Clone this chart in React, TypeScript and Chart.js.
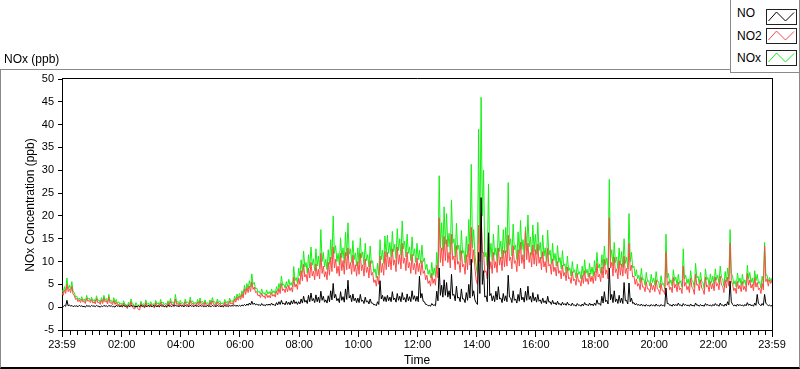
import React, { useEffect, useRef } from "react";
import { Chart, registerables } from "chart.js";

Chart.register(...registerables);

// minutes between samples, counted from the 23:59 start of the record
const STEP_MIN = 2.5;

// NOx (ppb), one row per hour (24 samples), starting 23:59
const NOX = [
  3.8, 3.2, 4.5, 3.6, 6.4, 4.0, 4.8, 3.9, 5.6, 3.4, 3.2, 2.2, 2.4, 1.6, 2.0, 1.5, 2.3, 1.4, 1.8, 1.2, 2.6, 1.7, 2.0, 1.4,
  2.2, 1.3, 1.7, 1.1, 2.5, 1.4, 1.6, 1.0, 2.1, 1.2, 2.6, 1.5, 1.9, 1.1, 2.8, 1.3, 1.5, 0.9, 2.1, 1.0, 1.7, 0.8, 1.2, 0.6,
  0.9, 0.4, 1.4, 0.6, 0.6, 0.2, 1.1, 0.5, 1.8, 0.7, 0.7, 0.1, 1.0, 0.4, 0.5, 0.0, 1.3, 0.5, 0.8, 0.3, 1.6, 0.6, 0.9, 0.4,
  1.2, 0.5, 0.8, 0.3, 1.5, 0.7, 1.0, 0.4, 1.7, 0.8, 1.1, 0.5, 0.9, 0.4, 1.4, 0.6, 1.9, 0.9, 1.2, 0.6, 2.8, 1.0, 1.3, 0.6,
  1.5, 0.8, 1.0, 0.5, 1.8, 0.9, 1.2, 0.6, 2.2, 1.0, 1.4, 0.7, 1.1, 0.6, 1.7, 0.9, 2.0, 1.0, 1.3, 0.7, 1.6, 0.8, 1.0, 0.5,
  1.6, 0.9, 2.1, 1.1, 1.2, 0.6, 1.8, 1.0, 1.4, 0.7, 1.0, 0.5, 1.7, 0.9, 1.3, 0.8, 2.0, 1.2, 1.5, 1.0, 2.4, 1.6, 2.9, 2.0,
  3.0, 2.2, 3.6, 2.6, 4.8, 3.5, 5.2, 4.0, 5.8, 4.4, 7.3, 5.0, 5.4, 4.0, 4.2, 3.2, 3.5, 2.8, 4.0, 3.0, 3.2, 2.6, 3.8, 2.9,
  3.4, 2.8, 4.0, 3.1, 3.6, 2.9, 4.5, 3.5, 5.2, 4.0, 6.8, 4.8, 5.0, 4.2, 5.6, 4.5, 6.1, 4.8, 5.4, 4.4, 8.9, 5.8, 6.5, 5.2,
  8.6, 6.8, 10.4, 7.6, 12.3, 8.8, 9.8, 7.4, 11.5, 8.6, 13.2, 9.2, 10.6, 8.0, 12.8, 9.0, 11.2, 8.4, 17.0, 10.0, 12.0, 8.8, 10.5, 8.2,
  12.6, 9.4, 14.8, 10.5, 20.0, 11.8, 13.5, 10.0, 11.8, 9.2, 15.2, 10.8, 13.0, 9.6, 16.4, 11.2, 18.5, 11.6, 12.8, 9.8, 14.6, 10.4, 11.9, 9.0,
  13.0, 9.6, 15.2, 10.8, 12.1, 9.2, 14.0, 10.2, 11.5, 8.8, 13.4, 9.6, 10.2, 7.6, 8.4, 6.4, 9.6, 7.0, 14.8, 10.4, 12.5, 9.6, 15.6, 11.0,
  15.8, 11.8, 14.2, 11.0, 16.6, 12.2, 13.8, 10.6, 17.2, 12.4, 15.0, 11.4, 18.9, 12.8, 14.5, 11.0, 16.0, 11.8, 13.2, 10.2, 15.4, 11.2, 12.8, 9.8,
  14.0, 10.4, 12.5, 9.6, 13.6, 10.0, 10.8, 8.2, 9.4, 7.2, 8.2, 6.4, 9.8, 7.0, 8.6, 6.6, 12.0, 8.4, 28.8, 13.0, 18.5, 12.4, 22.0, 13.8,
  20.5, 13.2, 16.2, 11.6, 23.5, 14.0, 15.0, 11.0, 18.4, 12.6, 13.6, 10.2, 16.8, 11.8, 12.4, 9.6, 15.5, 11.0, 19.2, 12.4, 31.3, 13.0, 17.0, 11.6,
  9.0, 7.2, 39.0, 14.0, 46.0, 20.0, 30.0, 11.0, 12.0, 9.0, 27.0, 11.0, 14.0, 10.2, 16.0, 11.4, 13.0, 10.0, 18.0, 12.2, 14.5, 10.6, 17.0, 11.8,
  17.5, 12.0, 27.3, 13.6, 15.0, 11.2, 18.2, 12.6, 13.6, 10.4, 16.5, 11.8, 19.0, 12.6, 14.8, 11.0, 17.6, 12.4, 20.2, 13.2, 15.4, 11.4, 18.0, 12.2,
  16.0, 11.6, 18.6, 12.4, 14.2, 10.6, 15.8, 11.2, 13.0, 10.0, 16.9, 11.4, 12.5, 9.4, 14.0, 10.2, 11.8, 9.0, 13.5, 9.8, 10.9, 8.4, 12.4, 9.0,
  9.5, 7.4, 11.2, 8.0, 8.6, 6.8, 10.0, 7.6, 8.2, 6.4, 9.4, 7.2, 7.8, 6.2, 9.0, 6.8, 10.4, 7.4, 8.3, 6.6, 9.6, 7.2, 8.8, 6.8,
  10.2, 7.6, 12.0, 8.6, 9.4, 7.4, 11.5, 8.4, 13.4, 9.2, 10.8, 8.4, 28.0, 10.4, 12.6, 9.0, 14.2, 9.8, 11.0, 8.4, 13.0, 9.2, 12.2, 8.8,
  15.0, 9.6, 11.0, 8.4, 20.5, 10.0, 12.0, 8.6, 9.0, 6.8, 8.2, 6.2, 7.0, 5.4, 8.5, 6.0, 6.2, 4.8, 7.6, 5.6, 5.8, 4.6, 7.2, 5.4,
  6.4, 4.8, 7.8, 5.6, 5.6, 4.2, 6.9, 5.0, 5.2, 4.0, 16.0, 6.4, 7.4, 5.2, 6.0, 4.6, 8.2, 5.8, 6.6, 4.8, 7.2, 5.2, 5.8, 4.4,
  12.8, 6.2, 7.0, 5.2, 6.2, 4.6, 8.0, 5.8, 5.6, 4.2, 9.6, 6.4, 6.8, 5.0, 7.6, 5.6, 5.4, 4.0, 8.4, 6.0, 6.5, 4.8, 7.3, 5.4,
  6.8, 5.0, 8.4, 6.0, 7.0, 5.2, 9.0, 6.4, 6.2, 4.6, 7.8, 5.6, 8.6, 6.2, 17.0, 7.4, 6.8, 5.0, 5.8, 4.4, 7.5, 5.4, 6.4, 4.8,
  7.2, 5.2, 6.0, 4.6, 9.2, 6.2, 7.6, 5.4, 6.4, 4.8, 8.0, 5.8, 7.2, 5.2, 5.6, 4.2, 6.8, 5.0, 14.2, 7.2, 7.0, 5.6, 6.5, 5.8,
  6.4,
];

// NO2 (ppb)
const NO2 = [
  3.2, 2.6, 3.8, 3.0, 5.0, 3.4, 4.0, 3.2, 4.6, 2.8, 2.6, 1.7, 1.9, 1.2, 1.6, 1.0, 1.8, 1.1, 1.3, 0.8, 2.0, 1.3, 1.5, 1.0,
  1.7, 0.9, 1.2, 0.7, 1.9, 1.0, 1.1, 0.6, 1.6, 0.8, 2.0, 1.1, 1.4, 0.7, 2.2, 0.9, 1.0, 0.5, 1.5, 0.6, 1.1, 0.4, 0.7, 0.2,
  0.5, 0.0, 0.9, 0.2, 0.1, -0.3, 0.6, 0.1, 1.2, 0.2, -0.3, -0.4, 0.4, -0.1, -0.5, -0.6, 0.8, 0.1, 0.3, -0.2, 1.0, 0.2, 0.4, 0.0,
  0.7, 0.1, 0.2, -0.2, 1.0, 0.3, 0.5, 0.0, 1.1, 0.4, 0.6, 0.1, 0.3, -0.1, 0.9, 0.2, 1.3, 0.5, 0.7, 0.2, 1.8, 0.6, 0.8, 0.2,
  0.9, 0.3, 0.5, 0.1, 1.2, 0.4, 0.7, 0.2, 1.5, 0.5, 0.9, 0.3, 0.6, 0.2, 1.1, 0.4, 1.4, 0.5, 0.8, 0.3, 1.1, 0.4, 0.5, 0.1,
  1.1, 0.5, 1.4, 0.6, 0.7, 0.2, 1.2, 0.5, 0.9, 0.3, 0.4, 0.0, 1.1, 0.4, 0.8, 0.3, 1.4, 0.7, 1.0, 0.5, 1.8, 1.1, 2.2, 1.5,
  2.4, 1.7, 2.9, 2.0, 4.0, 2.8, 4.3, 3.2, 4.6, 3.4, 5.6, 3.9, 4.4, 3.2, 3.4, 2.5, 2.7, 2.1, 3.1, 2.3, 2.5, 1.9, 2.9, 2.1,
  2.6, 2.0, 3.2, 2.4, 2.8, 2.2, 3.6, 2.7, 4.1, 3.0, 5.2, 3.6, 4.0, 3.2, 4.5, 3.4, 4.8, 3.6, 4.3, 3.3, 6.6, 4.4, 5.1, 3.9,
  6.4, 5.0, 8.0, 5.8, 9.4, 6.6, 7.2, 5.6, 8.6, 6.4, 9.8, 6.8, 7.9, 6.0, 9.5, 6.8, 8.3, 6.2, 11.8, 7.4, 9.0, 6.6, 7.8, 6.0,
  9.8, 7.0, 11.0, 7.8, 13.2, 8.6, 10.5, 7.4, 9.0, 6.8, 11.8, 8.0, 10.2, 7.2, 12.0, 8.2, 13.0, 8.4, 9.8, 7.2, 11.4, 7.8, 9.3, 6.8,
  10.0, 7.2, 11.8, 8.0, 9.3, 6.8, 10.6, 7.6, 8.8, 6.4, 10.2, 7.0, 7.6, 5.4, 6.0, 4.6, 6.8, 5.0, 11.2, 7.6, 9.6, 7.0, 12.2, 8.2,
  12.0, 8.8, 11.0, 8.2, 12.8, 9.2, 10.4, 7.8, 13.2, 9.4, 11.5, 8.4, 14.0, 9.6, 10.8, 8.0, 12.1, 8.6, 9.8, 7.4, 11.6, 8.2, 9.6, 7.2,
  10.8, 7.8, 9.6, 7.0, 10.2, 7.4, 8.0, 6.0, 7.0, 5.2, 5.8, 4.6, 7.4, 5.2, 6.2, 4.8, 9.2, 6.4, 19.6, 9.8, 13.0, 9.0, 15.5, 10.2,
  14.8, 9.8, 12.0, 8.6, 16.0, 10.4, 11.2, 8.2, 13.5, 9.4, 10.0, 7.6, 12.4, 8.8, 9.4, 7.2, 11.5, 8.2, 13.8, 9.2, 17.5, 9.8, 12.6, 8.6,
  6.0, 5.0, 18.0, 10.0, 20.5, 12.0, 12.0, 7.6, 8.0, 6.2, 14.0, 8.4, 10.0, 7.4, 12.0, 8.6, 10.0, 7.6, 13.0, 9.2, 11.0, 8.0, 12.5, 8.8,
  12.4, 9.0, 15.8, 10.2, 11.0, 8.4, 13.5, 9.6, 10.2, 7.8, 12.6, 9.0, 14.2, 9.6, 11.5, 8.4, 16.8, 10.4, 14.0, 9.8, 12.0, 8.8, 13.6, 9.4,
  12.6, 9.0, 13.8, 9.6, 11.0, 8.2, 12.2, 8.8, 10.0, 7.6, 12.9, 9.0, 9.4, 7.2, 10.6, 7.8, 8.8, 6.8, 10.0, 7.4, 8.0, 6.2, 9.2, 6.8,
  7.6, 5.8, 8.8, 6.2, 6.5, 5.2, 7.8, 5.8, 6.2, 4.8, 7.4, 5.6, 5.8, 4.6, 7.0, 5.2, 8.0, 5.6, 6.3, 5.0, 7.5, 5.6, 6.8, 5.2,
  7.8, 5.8, 9.6, 6.6, 7.2, 5.6, 8.8, 6.4, 10.5, 7.2, 8.2, 6.2, 19.6, 8.6, 9.8, 6.8, 11.0, 7.6, 8.4, 6.2, 10.2, 7.0, 9.5, 6.8,
  11.2, 7.4, 8.5, 6.2, 14.0, 8.0, 9.2, 6.6, 6.8, 5.0, 6.2, 4.6, 5.2, 3.8, 6.5, 4.4, 4.4, 3.4, 5.6, 4.0, 4.0, 3.2, 5.3, 3.8,
  4.8, 3.4, 6.0, 4.0, 3.8, 2.8, 5.2, 3.6, 3.6, 2.8, 12.0, 4.8, 5.6, 3.8, 4.4, 3.2, 6.5, 4.2, 5.0, 3.4, 5.5, 3.8, 4.2, 3.0,
  9.0, 4.6, 5.4, 3.8, 4.6, 3.2, 6.4, 4.4, 4.0, 2.8, 7.2, 4.8, 5.0, 3.6, 6.0, 4.2, 3.8, 2.8, 6.6, 4.4, 4.8, 3.4, 5.6, 4.0,
  5.2, 3.6, 6.6, 4.6, 5.2, 3.8, 6.8, 4.8, 4.6, 3.2, 6.0, 4.2, 6.6, 4.6, 14.0, 5.8, 5.0, 3.6, 4.2, 3.0, 5.6, 4.0, 4.8, 3.4,
  5.6, 3.8, 4.6, 3.4, 7.4, 4.8, 6.0, 4.2, 5.0, 3.6, 6.5, 4.4, 5.4, 3.8, 4.2, 3.0, 5.2, 3.8, 13.4, 5.6, 6.2, 4.6, 6.0, 5.2,
  6.0,
];

// NO (ppb)
const NO = [
  0.3, 0.1, 0.4, 0.2, 1.5, 0.3, 0.5, 0.2, 0.4, 0.1, 0.3, 0.2, 0.3, 0.1, 0.4, 0.2, 0.3, 0.1, 0.2, 0.0, 0.4, 0.2, 0.3, 0.1,
  0.4, 0.2, 0.3, 0.1, 0.4, 0.2, 0.2, 0.0, 0.3, 0.1, 0.4, 0.2, 0.3, 0.1, 0.4, 0.2, 0.3, 0.1, 0.2, 0.0, 0.4, 0.2, 0.3, 0.1,
  0.3, 0.1, 0.4, 0.2, 0.3, 0.1, 0.3, 0.1, 0.4, 0.2, 0.3, 0.0, 0.2, 0.1, 0.3, 0.1, 0.4, 0.2, 0.3, 0.1, 0.3, 0.1, 0.4, 0.2,
  0.3, 0.1, 0.4, 0.2, 0.3, 0.1, 0.3, 0.1, 0.4, 0.2, 0.3, 0.1, 0.3, 0.1, 0.4, 0.2, 0.3, 0.1, 0.4, 0.2, 0.5, 0.2, 0.3, 0.1,
  0.4, 0.2, 0.3, 0.1, 0.4, 0.2, 0.3, 0.1, 0.4, 0.2, 0.3, 0.1, 0.4, 0.2, 0.3, 0.1, 0.4, 0.2, 0.3, 0.1, 0.3, 0.1, 0.4, 0.2,
  0.3, 0.1, 0.4, 0.2, 0.3, 0.1, 0.4, 0.2, 0.3, 0.1, 0.3, 0.1, 0.4, 0.2, 0.3, 0.1, 0.4, 0.2, 0.4, 0.2, 0.5, 0.2, 0.4, 0.2,
  0.4, 0.2, 0.5, 0.3, 0.6, 0.3, 0.7, 0.4, 0.9, 0.5, 1.3, 0.6, 0.9, 0.5, 0.7, 0.4, 0.6, 0.3, 0.8, 0.4, 0.5, 0.3, 0.7, 0.4,
  0.7, 0.4, 0.9, 0.5, 0.6, 0.3, 1.0, 0.5, 1.2, 0.6, 1.5, 0.7, 0.9, 0.5, 1.3, 0.6, 1.1, 0.5, 1.4, 0.7, 1.6, 0.8, 1.2, 0.6,
  1.2, 0.7, 1.8, 0.9, 2.4, 1.1, 1.5, 0.8, 2.6, 1.2, 3.1, 1.4, 1.9, 1.0, 2.7, 1.2, 2.2, 1.0, 3.5, 1.5, 2.4, 1.1, 1.6, 0.9,
  2.5, 1.2, 3.6, 1.6, 5.2, 2.0, 2.8, 1.4, 1.9, 1.0, 3.4, 1.5, 2.3, 1.1, 4.0, 1.7, 5.9, 2.0, 2.6, 1.2, 2.9, 1.4, 2.0, 1.0,
  2.0, 1.0, 2.8, 1.3, 1.5, 0.8, 2.2, 1.1, 1.4, 0.7, 1.8, 0.9, 0.9, 0.5, 0.6, 0.3, 1.2, 0.6, 5.8, 1.8, 2.6, 1.3, 2.3, 1.2,
  2.6, 1.4, 2.2, 1.2, 3.4, 1.6, 2.0, 1.1, 3.0, 1.5, 2.4, 1.2, 3.2, 1.6, 2.1, 1.1, 2.9, 1.4, 2.3, 1.2, 3.6, 1.7, 2.5, 1.3,
  2.4, 1.2, 6.8, 2.0, 3.0, 1.3, 1.2, 0.6, 0.6, 0.3, 0.4, 0.2, 0.8, 0.4, 0.5, 0.3, 3.5, 1.4, 8.6, 2.6, 4.8, 2.2, 6.0, 2.6,
  5.4, 2.2, 3.6, 1.8, 7.2, 2.6, 2.8, 1.4, 4.6, 2.0, 2.2, 1.2, 4.0, 1.8, 1.8, 1.0, 3.2, 1.5, 5.0, 2.0, 10.5, 2.4, 3.6, 1.6,
  1.0, 0.6, 12.0, 3.0, 24.0, 5.0, 8.0, 2.2, 2.5, 1.2, 16.3, 2.5, 3.0, 1.4, 2.5, 1.2, 3.5, 1.6, 4.5, 1.8, 2.0, 1.0, 3.0, 1.4,
  2.5, 1.2, 7.0, 2.2, 2.0, 1.0, 3.6, 1.5, 1.8, 0.9, 2.8, 1.3, 4.2, 1.6, 2.2, 1.1, 3.5, 1.5, 4.6, 1.7, 2.4, 1.1, 3.2, 1.4,
  2.2, 1.1, 2.8, 1.3, 1.6, 0.8, 2.0, 1.0, 1.4, 0.7, 2.4, 1.1, 1.2, 0.6, 1.5, 0.7, 1.0, 0.5, 1.3, 0.6, 0.8, 0.4, 1.1, 0.5,
  0.8, 0.4, 1.1, 0.5, 0.6, 0.3, 0.9, 0.4, 0.5, 0.2, 0.8, 0.4, 0.5, 0.2, 0.7, 0.3, 1.0, 0.5, 0.6, 0.3, 0.9, 0.4, 0.7, 0.3,
  0.9, 0.4, 1.6, 0.7, 0.8, 0.4, 2.4, 0.9, 3.4, 1.2, 1.5, 0.7, 8.6, 1.6, 2.8, 1.0, 3.6, 1.2, 1.8, 0.8, 2.6, 1.0, 2.0, 0.8,
  5.4, 1.4, 1.5, 0.7, 5.3, 1.2, 2.0, 0.8, 1.0, 0.5, 0.8, 0.4, 0.6, 0.3, 0.7, 0.3, 0.5, 0.2, 0.6, 0.3, 0.4, 0.2, 0.6, 0.3,
  0.5, 0.2, 0.7, 0.3, 0.4, 0.2, 0.6, 0.3, 0.4, 0.2, 4.2, 0.8, 0.8, 0.4, 0.5, 0.2, 0.7, 0.3, 0.6, 0.3, 0.9, 0.4, 0.5, 0.2,
  0.8, 0.4, 0.6, 0.3, 0.5, 0.2, 0.7, 0.3, 0.4, 0.2, 0.9, 0.4, 0.5, 0.2, 0.6, 0.3, 0.4, 0.2, 0.8, 0.4, 0.6, 0.3, 0.5, 0.2,
  0.6, 0.3, 0.8, 0.4, 0.5, 0.2, 0.9, 0.4, 0.5, 0.2, 0.7, 0.3, 1.2, 0.5, 5.7, 1.2, 0.6, 0.3, 0.5, 0.2, 0.7, 0.3, 0.6, 0.3,
  0.5, 0.2, 0.6, 0.3, 1.0, 0.4, 0.7, 0.3, 0.5, 0.2, 0.9, 0.4, 2.8, 0.8, 0.6, 0.3, 0.8, 0.4, 2.8, 0.9, 0.6, 0.3, 0.5, 0.2,
  0.4,
];

// x-axis: labelled ticks (minutes after the 23:59 start) and their labels
const MAJOR_TICK_MIN = [0, 121, 241, 361, 481, 601, 721, 841, 961, 1081, 1201, 1321, 1440];
const MAJOR_TICK_LABELS = ["23:59", "02:00", "04:00", "06:00", "08:00", "10:00", "12:00", "14:00", "16:00", "18:00", "20:00", "22:00", "23:59"];
const MINOR_TICK_START = 16; // 00:15
const MINOR_TICK_STEP = 15;
const X_MAX = 1440;

const Y_MIN = -5;
const Y_MAX = 50;
const Y_STEP = 5;

const SERIES = [
  { name: "NO", values: NO, color: "#000000" },
  { name: "NO2", values: NO2, color: "#ff4848" },
  { name: "NOx", values: NOX, color: "#14f014" },
];

const FONT = "'Liberation Sans', Arial, sans-serif";

export default function App() {
  const ref = useRef<HTMLCanvasElement>(null);

  useEffect(() => {
    const canvas = ref.current;
    if (!canvas) return;

    const minorTicks: number[] = [];
    for (let t = MINOR_TICK_START; t < X_MAX; t += MINOR_TICK_STEP) {
      if (!MAJOR_TICK_MIN.includes(t)) minorTicks.push(t);
    }

    const framePlugin = {
      id: "frame",
      afterDraw(chart: any) {
        const { ctx, chartArea } = chart;
        const { left, right, top, bottom } = chartArea;
        const xs = chart.scales.x;
        ctx.save();
        ctx.strokeStyle = "#000";
        ctx.lineWidth = 1;
        ctx.beginPath();
        ctx.moveTo(Math.round(left), Math.round(top) - 0.5);
        ctx.lineTo(Math.round(right) + 1, Math.round(top) - 0.5);
        ctx.moveTo(Math.round(right) + 0.5, Math.round(top) - 0.5);
        ctx.lineTo(Math.round(right) + 0.5, Math.round(bottom) + 1);
        for (const t of minorTicks) {
          const px = Math.round(xs.getPixelForValue(t)) + 0.5;
          ctx.moveTo(px, Math.round(bottom) + 1);
          ctx.lineTo(px, Math.round(bottom) + 5);
        }
        ctx.stroke();
        ctx.restore();
      },
    };

    const chart = new Chart(canvas, {
      type: "line",
      data: {
        datasets: SERIES.map((s) => ({
          label: s.name,
          data: s.values.map((v, i) => ({ x: i * STEP_MIN, y: v })),
          borderColor: s.color,
          backgroundColor: s.color,
          borderWidth: 1,
          pointRadius: 0,
          tension: 0,
          fill: false,
        })),
      },
      options: {
        animation: false,
        responsive: false,
        devicePixelRatio: 1,
        layout: { padding: { left: 0, top: 79, right: 28, bottom: 0 } },
        plugins: { legend: { display: false }, tooltip: { enabled: false } },
        scales: {
          x: {
            type: "linear",
            min: 0,
            max: X_MAX,
            afterFit: (scale: any) => {
              scale.height = 39;
            },
            afterBuildTicks: (scale: any) => {
              scale.ticks = MAJOR_TICK_MIN.map((v) => ({ value: v }));
            },
            grid: {
              display: true,
              drawOnChartArea: false,
              drawTicks: true,
              tickLength: 7,
              tickColor: "#000",
            },
            border: { display: true, color: "#000", width: 1 },
            ticks: {
              autoSkip: false,
              maxRotation: 0,
              minRotation: 0,
              padding: 1,
              color: "#000",
              font: { family: FONT, size: 11 },
              callback: (value: any) => {
                const idx = MAJOR_TICK_MIN.indexOf(Number(value));
                return idx >= 0 ? MAJOR_TICK_LABELS[idx] : "";
              },
            },
          },
          y: {
            type: "linear",
            min: Y_MIN,
            max: Y_MAX,
            afterFit: (scale: any) => {
              scale.width = 62;
            },
            grid: {
              display: true,
              drawOnChartArea: false,
              drawTicks: true,
              tickLength: 4,
              tickColor: "#000",
            },
            border: { display: true, color: "#000", width: 1 },
            ticks: {
              stepSize: Y_STEP,
              padding: 4,
              color: "#000",
              font: { family: FONT, size: 11 },
            },
          },
        },
      },
      plugins: [framePlugin],
    });

    return () => chart.destroy();
  }, []);

  const text: React.CSSProperties = {
    position: "absolute",
    fontFamily: FONT,
    fontSize: 12,
    lineHeight: "14px",
    color: "#000",
    whiteSpace: "nowrap",
  };

  return (
    <div
      style={{
        position: "fixed",
        left: 0,
        top: 0,
        width: 800,
        height: 369,
        background: "#fff",
        overflow: "hidden",
      }}
    >
      <div
        style={{
          position: "absolute",
          left: 0,
          top: 69,
          width: 798,
          height: 297,
          borderTop: "1px solid #8a8a8a",
          borderLeft: "1px solid #8a8a8a",
          borderRight: "1px solid #8a8a8a",
          borderBottom: "2px solid #000",
        }}
      />
      <canvas
        ref={ref}
        width={800}
        height={369}
        style={{ position: "absolute", left: 0, top: 0, width: 800, height: 369 }}
      />
      <div style={{ ...text, left: 4, top: 52 }}>NOx (ppb)</div>
      <div style={{ ...text, left: 417, top: 353, transform: "translateX(-50%)" }}>Time</div>
      <div
        style={{
          ...text,
          left: 30,
          top: 205,
          transform: "translate(-50%, -50%) rotate(-90deg)",
        }}
      >
        NOx Concentration (ppb)
      </div>
      <div
        style={{
          position: "absolute",
          left: 730,
          top: -1,
          width: 68,
          height: 72,
          border: "1px solid #8a8a8a",
          background: "#fff",
        }}
      />
      {SERIES.map((s, i) => {
        const top = [6, 29, 51][i];
        const swTop = [9, 28, 50][i];
        return (
          <React.Fragment key={s.name}>
            <div style={{ ...text, left: 737, top }}>{s.name}</div>
            <svg
              width={29}
              height={14}
              style={{ position: "absolute", left: 766, top: swTop, border: "1px solid #202020", background: "#fff" }}
            >
              <polyline
                points="1.5,11 9.5,2 18.5,11 27,2.5"
                fill="none"
                stroke={s.color}
                strokeWidth={1}
              />
            </svg>
          </React.Fragment>
        );
      })}
    </div>
  );
}
